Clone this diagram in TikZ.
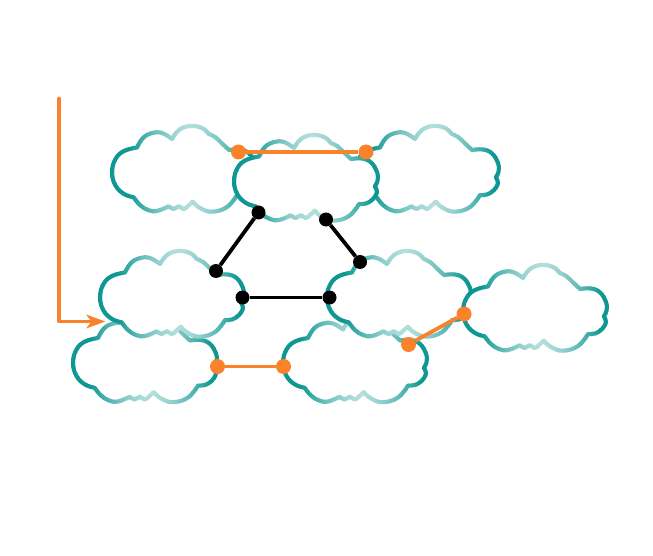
\documentclass[tikz,border=0pt]{standalone}
\definecolor{clouddark}{HTML}{0F9893}
\definecolor{cloudlight}{HTML}{B2DEDB}
\definecolor{accent}{HTML}{F9822A}
\usetikzlibrary{arrows.meta}
\newcommand{\cloudpath}{(21.7,72.3)
 -- plot[smooth,tension=.7] coordinates {(21.7,72.3)(12,69)(3.5,60.5)(0,47.3)(3.5,34)(12,26)(25,22.5)}
 -- plot[smooth,tension=.7] coordinates {(25,22.5)(31,13)(40,8)(50,8)(60,14)}
 -- plot[smooth,tension=.7] coordinates {(60,14)(67,5)(78,1)(90,3)(96.7,9)}
 -- plot[smooth,tension=.7] coordinates {(96.7,9)(103,12)(110,18.5)(117,25)}
 -- plot[smooth,tension=.7] coordinates {(117,25)(128,24.5)(137,28.5)(143,38)(143.5,47)(140.7,52.3)}
 -- plot[smooth,tension=.7] coordinates {(140.7,52.3)(143,58)(139,65)(132,69.5)(125,70)}
 -- plot[smooth,tension=.7] coordinates {(125,70)(115,82)(100,86.7)(88,83)(80.7,76.7)}
 -- plot[smooth,tension=.7] coordinates {(80.7,76.7)(76,81)(71.7,84)(66.7,81.3)(61.7,84)(56.7,81.3)}
 -- plot[smooth,tension=.7] coordinates {(56.7,81.3)(45,86)(36,85)(28,80)(21.7,72.3)} -- cycle}
\newcommand{\cloudat}[1]{%
 \begin{scope}[shift={(#1)}]
  \fill[white] \cloudpath;
  \foreach \u in {-4,-2,...,148}{
   \pgfmathsetmacro{\pct}{100*min(1,abs(\u+1-78)/60)^1.5}
   \begin{scope}
    \clip (\u,-6) rectangle (\u+2.4,94);
    \draw[cloudline,draw=clouddark!\pct!cloudlight] \cloudpath;
   \end{scope}
  }
 \end{scope}}
\tikzset{
 x=1pt,y=-1pt,
 cloudline/.style={line width=4.1pt,line join=round},
 dotb/.style={circle,fill=black,inner sep=0pt,minimum size=14pt},
 doto/.style={circle,fill=accent,inner sep=0pt,minimum size=15pt},
 linkb/.style={draw=black,line width=3.8pt},
 linko/.style={draw=accent,line width=3.8pt},
}
\begin{document}
\begin{tikzpicture}
\useasboundingbox (0,0) rectangle (653,556);
\cloudat{73,315.5}
\cloudat{283,315.5}
\cloudat{100,250}
\cloudat{327,250}
\cloudat{463,264}
\cloudat{112,125}
\cloudat{355,125}
\cloudat{234,134}
\node[dotb] (b1) at (258.5,212.5) {};
\node[dotb] (b2) at (216,271) {};
\node[dotb] (b3) at (326,219.5) {};
\node[dotb] (b4) at (360,262) {};
\node[dotb] (b5) at (242.5,297.5) {};
\node[dotb] (b6) at (329.5,297.5) {};
\node[doto] (o1) at (238.5,152) {};
\node[doto] (o2) at (366,152) {};
\node[doto] (o3) at (217.5,366.5) {};
\node[doto] (o4) at (283.5,366.5) {};
\node[doto] (o5) at (408.5,344.5) {};
\node[doto] (o6) at (464,314) {};
\draw[linkb] (b1) -- (b2);
\draw[linkb] (b3) -- (b4);
\draw[linkb] (b5) -- (b6);
\draw[linko] (o1) -- (o2);
\draw[linko] (o3) -- (o4);
\draw[linko] (o5) -- (o6);
\coordinate (a1) at (59,98.5);
\coordinate (a2) at (59,321.5);
\coordinate (a3) at (105.5,321.5);
\draw[linko,line join=round,line cap=round,-{Stealth[length=19pt,width=13.5pt,inset=5pt]}] (a1) -- (a2) -- (a3);
\end{tikzpicture}
\end{document}
